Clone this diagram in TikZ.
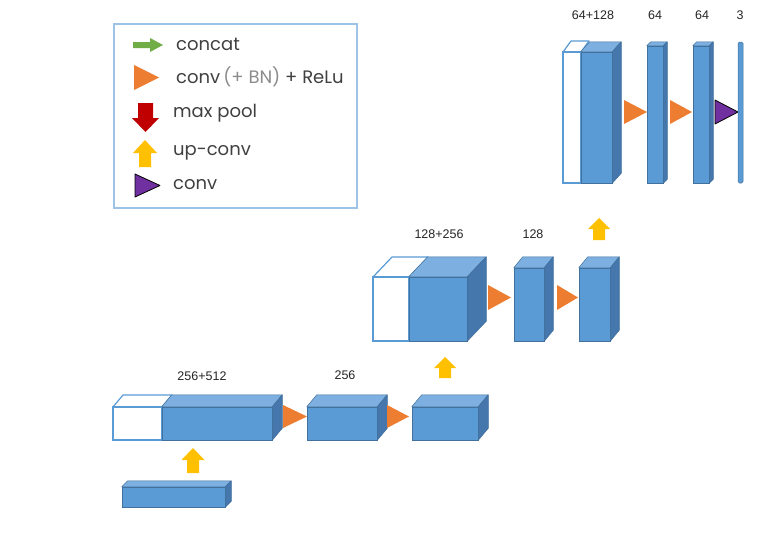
\documentclass[tikz,border=0pt]{standalone}
\usepackage{fontspec}
\setmainfont{Liberation Sans}
\newfontfamily\legfont{Poppins}
\usetikzlibrary{fit}
\definecolor{bluefront}{HTML}{5B9BD5}
\definecolor{bluetop}{HTML}{7DAFE0}
\definecolor{blueside}{HTML}{4576AC}
\definecolor{blueedge}{HTML}{41719C}
\definecolor{orangec}{HTML}{ED7D31}
\definecolor{yellowc}{HTML}{FFC000}
\definecolor{redc}{HTML}{C00000}
\definecolor{greenc}{HTML}{70AD47}
\definecolor{purplec}{HTML}{7030A0}
\definecolor{legborder}{HTML}{9DC3E6}
\definecolor{txt}{HTML}{404040}
\definecolor{txtlight}{HTML}{8C8C8C}
\tikzset{
  front/.style={draw=blueedge, line width=0.5pt, fill=bluefront, inner sep=0pt},
  topf/.style={draw=blueedge, line width=0.5pt, fill=bluetop, line join=round},
  sidef/.style={draw=blueedge, line width=0.5pt, fill=blueside, line join=round},
  wfront/.style={draw=bluefront, line width=1.2pt, fill=white, inner sep=0pt},
  wtop/.style={draw=bluefront, line width=1.2pt, fill=white, line join=round},
  convtri/.style={fill=orangec},
  finaltri/.style={fill=purplec, draw=black, line width=0.8pt, line join=round},
  uparrow/.style={fill=yellowc},
  lbl/.style={font=\fontsize{12.5}{14}\selectfont, text=black!85},
  legtext/.style={font=\legfont\fontsize{18}{20}\selectfont, text=txt, anchor=west, inner sep=0pt},
}
% blue cuboid: name, x1, y1, x2, y2, dx, dy
\newcommand{\cuboid}[7]{%
  \path (#2,#3) coordinate (#1nw) (#4,#5) coordinate (#1se);
  \node[front, fit=(#1nw)(#1se)] (#1) {};
  \draw[topf] (#1.north west) -- ++(#6,-#7) -- ([shift={(#6,-#7)}]#1.north east) -- (#1.north east) -- cycle;
  \draw[sidef] (#1.north east) -- ++(#6,-#7) -- ([shift={(#6,-#7)}]#1.south east) -- (#1.south east) -- cycle;
}
% white cuboid (front + top only)
\newcommand{\wcuboid}[7]{%
  \path (#2,#3) coordinate (#1nw) (#4,#5) coordinate (#1se);
  \draw[wtop] (#2,#3) -- ++(#6,-#7) -- ([shift={(#6,-#7)}]#4,#3) -- (#4,#3) -- cycle;
  \node[wfront, fit=(#1nw)(#1se)] (#1) {};
}
% triangle: style, x1, y1, x2, y2
\newcommand{\tri}[5]{\path[#1] (#2,#3) -- (#4,{(#3+#5)/2}) -- (#2,#5) -- cycle;}
% up arrow: cx, half width, half shaft, ytop, yhead, ybot
\newcommand{\uparr}[6]{\path[uparrow] (#1,#4) -- ({#1+#2},#5) -- ({#1+#3},#5) -- ({#1+#3},#6) -- ({#1-#3},#6) -- ({#1-#3},#5) -- ({#1-#2},#5) -- cycle;}
\begin{document}
\begin{tikzpicture}[x=1pt,y=-1pt]
\useasboundingbox[fill=white] (0,0) rectangle (778,546);

% ---------- legend ----------
\node[draw=legborder, line width=1.5pt, fit={(114,24)(357,208)}, inner sep=0pt] (legend) {};
\path[fill=greenc] (133,42) -- (150,42) -- (150,38) -- (163,45) -- (150,52) -- (150,48) -- (133,48) -- cycle;
\node[legtext] (lconcat) at (176,44) {concat};
\tri{convtri}{134}{65}{159}{90}
\node[legtext] (lconv) at (176,77) {conv\,{\color{txtlight}(+ BN)} + ReLu};
\path[fill=redc] (138,103) -- (153,103) -- (153,118) -- (159,118) -- (145.5,132) -- (132,118) -- (138,118) -- cycle;
\node[legtext] (lpool) at (173,113) {max pool};
\uparr{145}{12}{6}{140}{153}{167}
\node[legtext] (lup) at (173,153) {up-conv};
\tri{finaltri}{135}{174}{160}{197}
\node[legtext] (lfinal) at (173,185) {conv};

% ---------- bottom row ----------
\cuboid{bot}{122}{487}{225}{507}{6}{6}
\uparr{193}{11.5}{6}{448}{460}{473}
\wcuboid{cwA}{113}{407}{162}{440}{10}{12}
\cuboid{cbA}{162}{407}{272}{440}{10}{12}
\tri{convtri}{283}{405}{307}{428}
\cuboid{cbB}{307}{407}{377}{440}{10}{12}
\tri{convtri}{387}{405}{409}{428}
\cuboid{cbC}{412}{407}{478}{440}{10}{12}
\node[lbl] (t1) at (202,376) {256+512};
\node[lbl] (t2) at (345,375) {256};

% ---------- middle row ----------
\uparr{445}{11}{6}{357}{368}{378}
\wcuboid{mwA}{373}{277}{409}{341}{19}{20}
\cuboid{mbA}{409}{277}{467}{341}{19}{20}
\tri{convtri}{488}{285}{511}{310}
\cuboid{mbB}{514}{268}{544}{341}{9}{11}
\tri{convtri}{557}{285}{578}{310}
\cuboid{mbC}{579}{268}{610}{341}{9}{11}
\node[lbl] (t3) at (439,234) {128+256};
\node[lbl] (t4) at (533,234) {128};

% ---------- top row ----------
\uparr{599}{11}{6}{218}{229}{240}
\wcuboid{twA}{563}{52}{581}{183}{8}{11}
\cuboid{tbA}{581}{52}{612}{183}{9}{10}
\tri{convtri}{624}{100}{647}{124}
\cuboid{tbB}{647}{46}{663}{183}{4}{4}
\tri{convtri}{670}{100}{692}{124}
\cuboid{tbC}{693}{46}{709}{183}{4}{4}
\tri{finaltri}{715}{100}{738}{124}
\node[draw=blueedge, line width=0.5pt, fill=bluefront, rounded corners=1.5pt, inner sep=0pt, fit={(738,42)(743,183)}] (tout) {};
\node[lbl] (t5) at (593,15) {64+128};
\node[lbl] (t6) at (655,15) {64};
\node[lbl] (t7) at (702,15) {64};
\node[lbl] (t8) at (740,15) {3};
\end{tikzpicture}
\end{document}
